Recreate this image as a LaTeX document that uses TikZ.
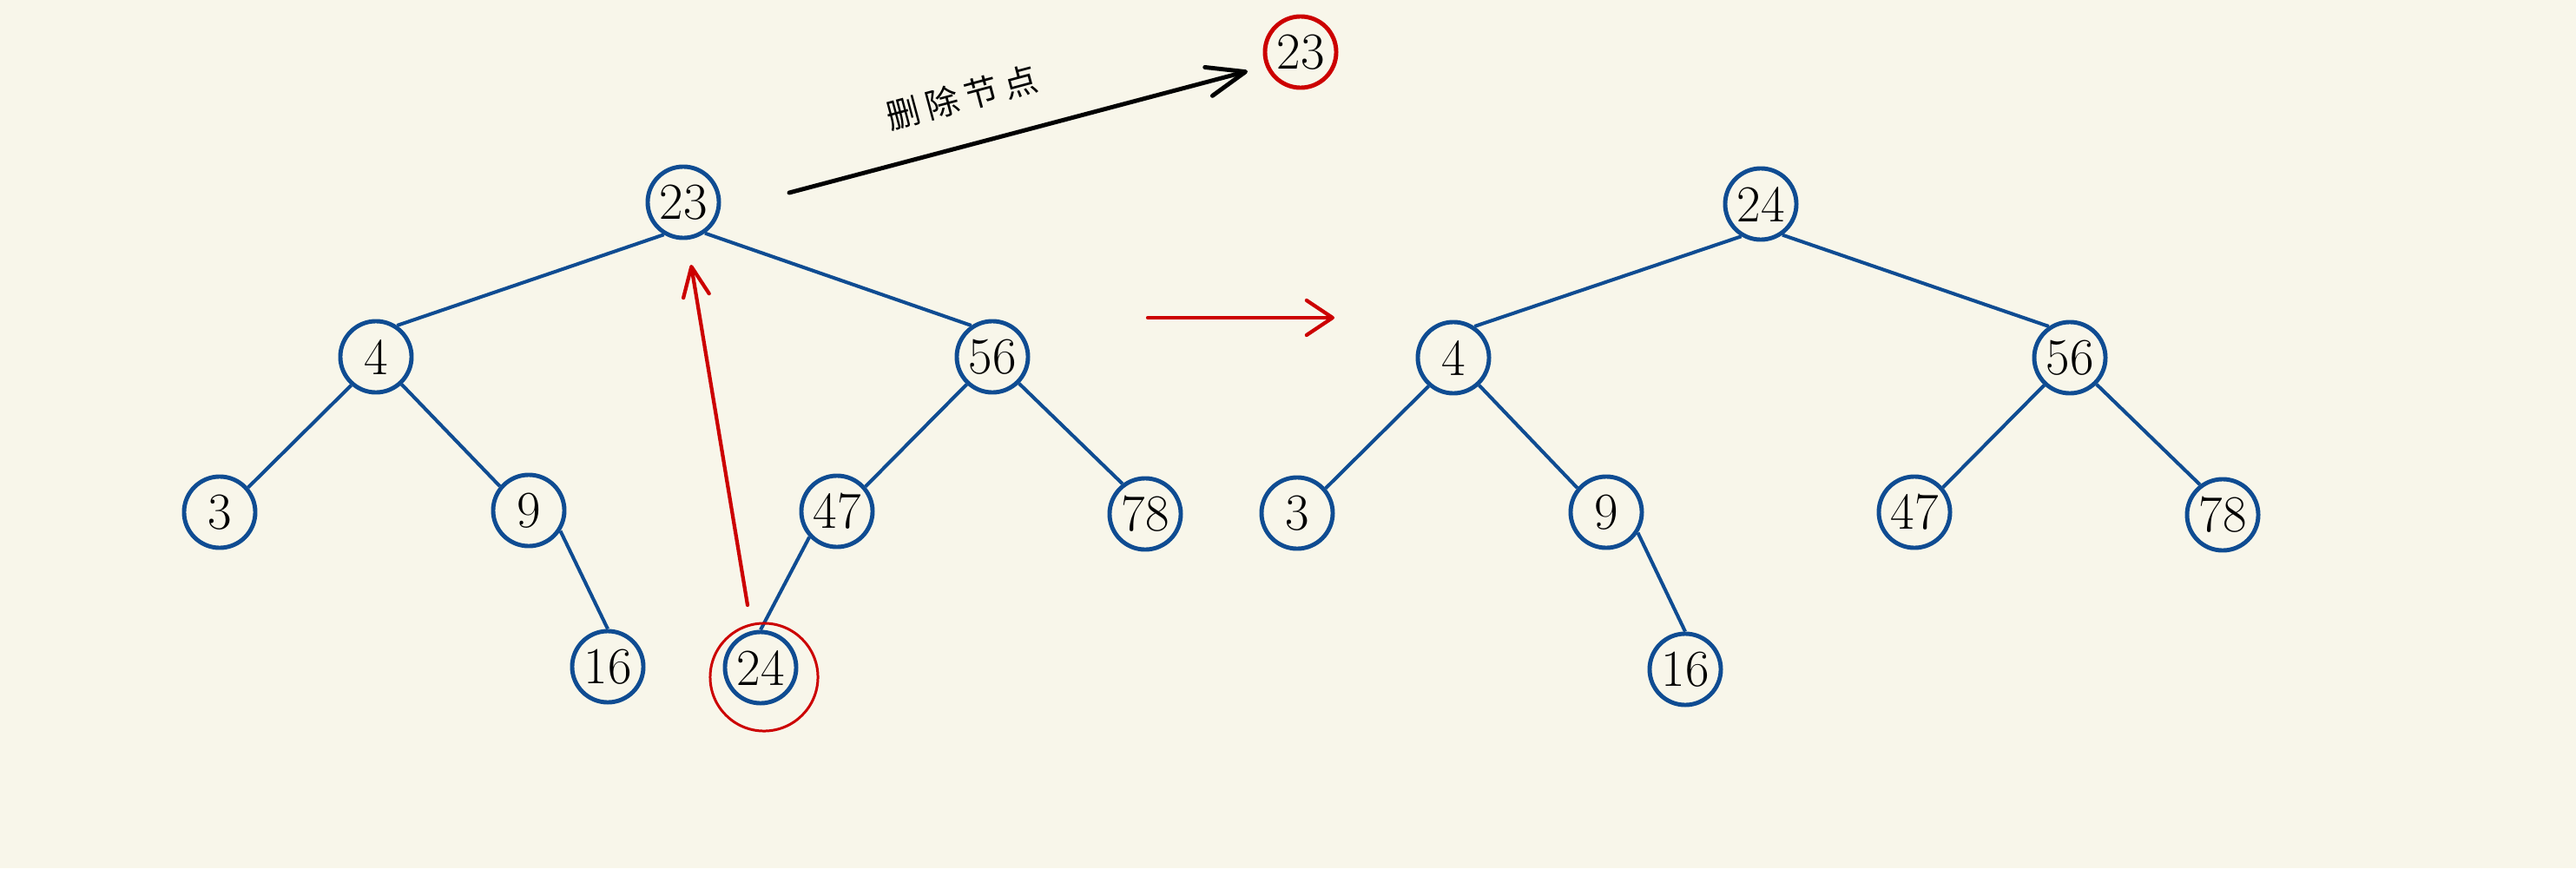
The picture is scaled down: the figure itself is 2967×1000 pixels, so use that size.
\documentclass[tikz,border=0pt]{standalone}
\usepackage{fontspec}
\newfontfamily\cjk[LetterSpace=20]{Noto Sans CJK SC}
\usetikzlibrary{arrows.meta}
\definecolor{bg}{HTML}{F8F6EA}
\definecolor{tblue}{HTML}{0F4C92}
\definecolor{tred}{HTML}{CC0000}
\begin{document}
\begin{tikzpicture}[x=0.01cm,y=-0.01cm,
  tnode/.style={circle, draw=tblue, line width=1.4pt, minimum size=0.82cm, inner sep=0pt, font=\fontsize{17}{17}\selectfont},
  tedge/.style={draw=tblue, line width=1.15pt},
  redarrow/.style={draw=tred, line width=1.2pt, line cap=round},
]
\fill[bg] (0,0) rectangle (2967,1000);
\useasboundingbox (0,0) rectangle (2967,1000);

% left tree
\node[tnode] (a23) at (787,233) {23};
\node[tnode] (a4) at (433,411) {4};
\node[tnode] (a56) at (1143,411) {56};
\node[tnode] (a3) at (253,590) {3};
\node[tnode] (a9) at (609,588) {9};
\node[tnode] (a47) at (964,589) {47};
\node[tnode] (a78) at (1319,592) {78};
\node[tnode] (a16) at (700,768) {16};
\node[tnode] (a24) at (876,769) {24};

\draw[tedge] (a23.239) -- (a4.56);
\draw[tedge] (a23.-55) -- (a56.124);
\draw[tedge] (a4.-131) -- (a3.41);
\draw[tedge] (a4.-47) -- (a9.140);
\draw[tedge] (a9.-33) -- (a16.90);
\draw[tedge] (a56.-133) -- (a47.41);
\draw[tedge] (a56.-45) -- (a78.127);
\draw[tedge] (a47.-137) -- (a24.90);

% highlight of the successor
\node[circle, draw=tred, line width=0.85pt, minimum size=1.24cm, inner sep=0pt] (hl) at (880,780) {};

% deleted node
\node[tnode, draw=tred] (d23) at (1498,60) {23};

% arrows
\coordinate (s1) at (909,222);
\coordinate (e1) at (1437,82);
\draw[line width=1.4pt, line cap=round, -{Straight Barb[length=0.44cm,width=0.34cm,round]}] (s1) -- (e1);
\node[rotate=15, font=\cjk\fontsize{11}{11}\selectfont] (lbl) at (1108,112) {删除节点};

\coordinate (s2) at (861,697);
\coordinate (e2) at (796,305);
\draw[redarrow, -{Straight Barb[length=0.34cm,width=0.30cm,round]}] (s2) -- (e2);

\coordinate (s3) at (1322,366);
\coordinate (e3) at (1537,366);
\draw[redarrow, -{Straight Barb[length=0.30cm,width=0.40cm,round]}] (s3) -- (e3);

% right tree
\node[tnode] (b24) at (2028,235) {24};
\node[tnode] (b4) at (1674,412) {4};
\node[tnode] (b56) at (2384,412) {56};
\node[tnode] (b3) at (1494,591) {3};
\node[tnode] (b9) at (1850,590) {9};
\node[tnode] (b47) at (2205,590) {47};
\node[tnode] (b78) at (2560,593) {78};
\node[tnode] (b16) at (1941,771) {16};

\draw[tedge] (b24.239) -- (b4.56);
\draw[tedge] (b24.-55) -- (b56.124);
\draw[tedge] (b4.-131) -- (b3.41);
\draw[tedge] (b4.-47) -- (b9.140);
\draw[tedge] (b9.-33) -- (b16.90);
\draw[tedge] (b56.-133) -- (b47.41);
\draw[tedge] (b56.-45) -- (b78.127);
\end{tikzpicture}
\end{document}
